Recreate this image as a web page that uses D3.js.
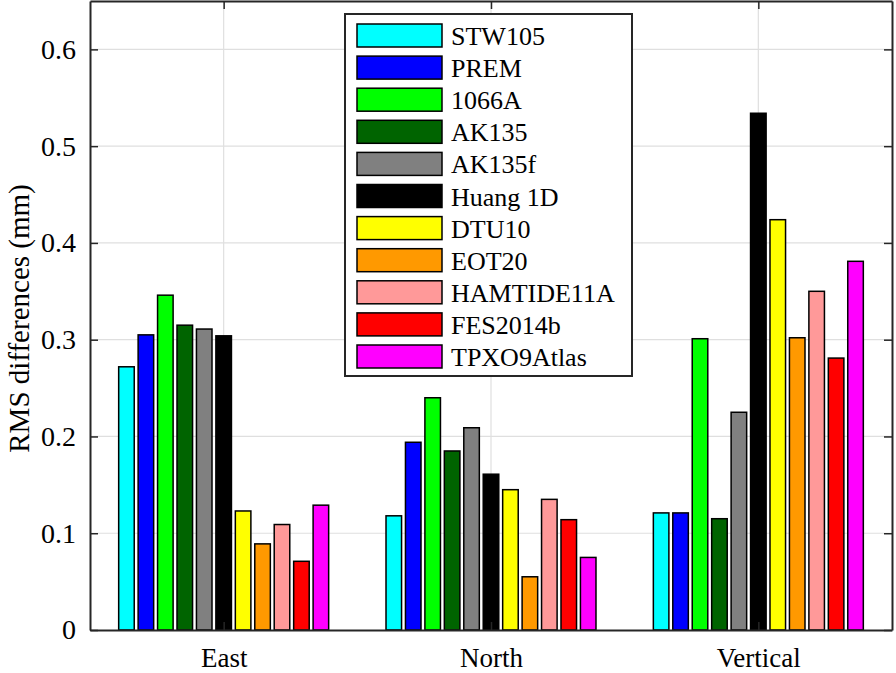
<!DOCTYPE html>
<html>
<head>
<meta charset="utf-8">
<script src="https://cdn.jsdelivr.net/npm/d3@7"></script>
<style>
  body { margin: 0; background: #fff; }
  svg { display: block; }
</style>
</head>
<body>
<svg id="chart" width="896" height="673"></svg>
<script>
const categories = ["East", "North", "Vertical"];
const series = ["STW105", "PREM", "1066A", "AK135", "AK135f", "Huang 1D", "DTU10", "EOT20", "HAMTIDE11A", "FES2014b", "TPXO9Atlas"];
const colors = ["#00ffff", "#0000ff", "#00ff00", "#006400", "#808080", "#000000", "#ffff00", "#ff9900", "#ff9999", "#ff0000", "#ff00ff"];
const eastValues     = [0.272, 0.305, 0.346, 0.315, 0.311, 0.304, 0.123, 0.089, 0.109, 0.071, 0.129];
const northValues    = [0.118, 0.194, 0.240, 0.185, 0.209, 0.161, 0.145, 0.055, 0.135, 0.114, 0.075];
const verticalValues = [0.121, 0.121, 0.301, 0.115, 0.225, 0.534, 0.424, 0.302, 0.350, 0.281, 0.381];
const yTicks = [0, 0.1, 0.2, 0.3, 0.4, 0.5, 0.6];
const yLabel = "RMS differences (mm)";

const valuesByCategory = [eastValues, northValues, verticalValues];

const FONT = '"Liberation Serif", "DejaVu Serif", "Noto Serif", "Times New Roman", Times, serif';
const svg = d3.select("#chart");
const L = 90, R = 892, T = 1, B = 630;

const x = d3.scaleLinear().domain([0.5, 3.5]).range([L, R]);
const y = d3.scaleLinear().domain([0, 0.65]).range([B, T]);
const catW = x(2) - x(1);
const groupW = 0.8 * catW;
const inner = d3.scaleBand().domain(series).range([-groupW / 2, groupW / 2]).paddingInner(0.2).paddingOuter(0.1);

const axisColor = "#262626";
const gridColor = "#dfdfdf";

// grid
const grid = svg.append("g");
grid.selectAll("line.gy").data(yTicks.filter(t => t > 0)).join("line")
  .attr("x1", L).attr("x2", R).attr("y1", d => y(d)).attr("y2", d => y(d))
  .attr("stroke", gridColor).attr("stroke-width", 1.2);
grid.selectAll("line.gx").data(categories.map((c, i) => i + 1)).join("line")
  .attr("x1", d => x(d)).attr("x2", d => x(d)).attr("y1", T).attr("y2", B)
  .attr("stroke", gridColor).attr("stroke-width", 1.2);

// bars
const data = [];
categories.forEach((c, ci) => {
  series.forEach((s, si) => data.push({ c: ci + 1, s, si, v: valuesByCategory[ci][si] }));
});
svg.append("g").selectAll("rect").data(data).join("rect")
  .attr("x", d => x(d.c) + inner(d.s))
  .attr("width", inner.bandwidth())
  .attr("y", d => y(d.v))
  .attr("height", d => y(0) - y(d.v))
  .attr("fill", d => colors[d.si])
  .attr("stroke", "#000").attr("stroke-width", 1.5);

// axes
const tickLen = 8;
const axLeft = svg.append("g").attr("transform", `translate(${L},0)`)
  .call(d3.axisLeft(y).tickValues(yTicks).tickFormat(d => d === 0 ? "0" : d3.format(".1f")(d)).tickSizeInner(-tickLen).tickSizeOuter(0).tickPadding(14));
const axRight = svg.append("g").attr("transform", `translate(${R},0)`)
  .call(d3.axisRight(y).tickValues(yTicks).tickFormat("").tickSizeInner(-tickLen).tickSizeOuter(0));
const axBottom = svg.append("g").attr("transform", `translate(0,${B})`)
  .call(d3.axisBottom(x).tickValues([1, 2, 3]).tickFormat(d => categories[d - 1]).tickSizeInner(-tickLen).tickSizeOuter(0).tickPadding(18));
const axTop = svg.append("g").attr("transform", `translate(0,${T})`)
  .call(d3.axisTop(x).tickValues([1, 2, 3]).tickFormat("").tickSizeInner(-tickLen).tickSizeOuter(0));

[axLeft, axRight, axBottom, axTop].forEach(a => {
  a.attr("font-family", FONT);
  a.selectAll("path.domain").attr("stroke", axisColor).attr("stroke-width", 2);
  a.selectAll(".tick line").attr("stroke", axisColor).attr("stroke-width", 1.5);
  a.selectAll("text").attr("font-family", FONT).attr("fill", "#000");
});
axLeft.attr("font-size", 28).selectAll("text").attr("font-size", 28);
axBottom.attr("font-size", 27).selectAll("text").attr("font-size", 27);

// y label
svg.append("text")
  .attr("transform", `translate(29,${(T + B) / 2 + 3}) rotate(-90)`)
  .attr("text-anchor", "middle")
  .attr("font-family", FONT)
  .attr("font-size", 29)
  .attr("fill", "#000")
  .text(yLabel);

// legend
const lg = svg.append("g").attr("font-family", FONT);
lg.append("rect").attr("x", 345).attr("y", 14).attr("width", 287).attr("height", 362)
  .attr("fill", "#fff").attr("stroke", axisColor).attr("stroke-width", 2);
const rowY = d3.scaleLinear().domain([0, series.length - 1]).range([35.5, 356.5]);
const rows = lg.selectAll("g.row").data(series).join("g").attr("class", "row")
  .attr("transform", (d, i) => `translate(0,${rowY(i)})`);
rows.append("rect").attr("x", 357).attr("y", -11.5).attr("width", 85).attr("height", 23)
  .attr("fill", (d, i) => colors[i]).attr("stroke", "#000").attr("stroke-width", 1.5);
rows.append("text").attr("x", 451).attr("y", 9.5).attr("font-family", FONT).attr("font-size", 26).attr("fill", "#000").text(d => d);
</script>
</body>
</html>
